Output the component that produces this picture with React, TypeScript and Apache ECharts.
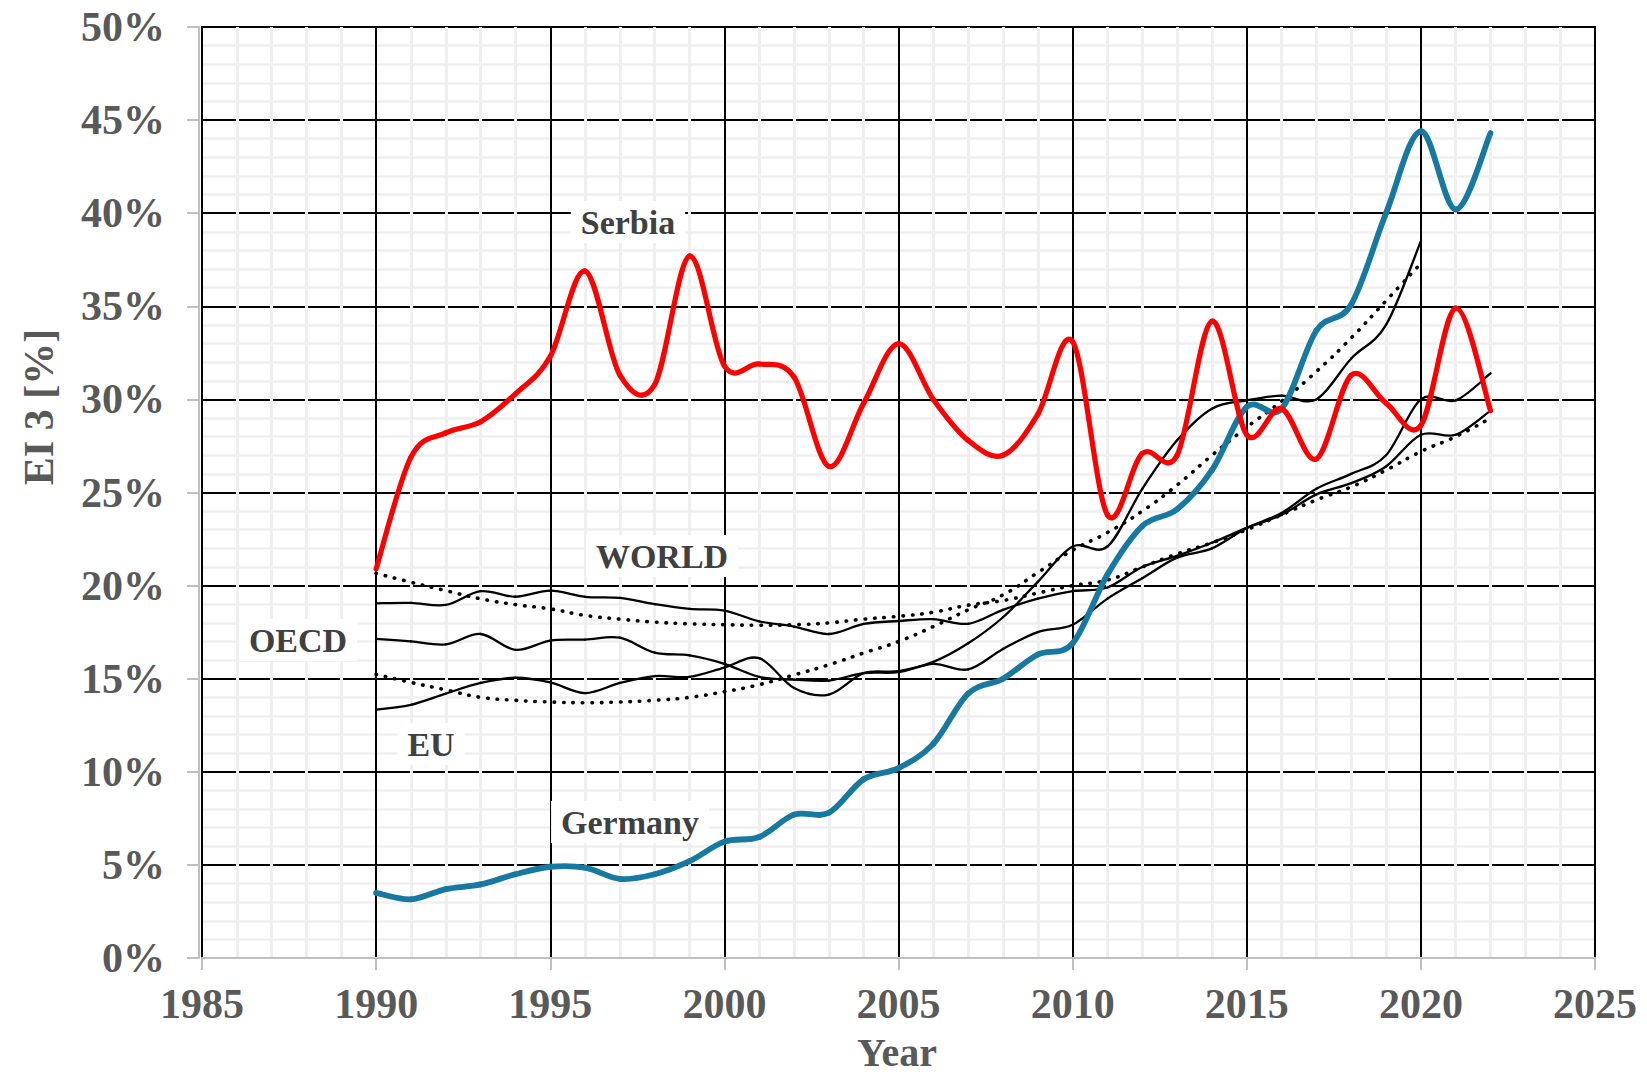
import React, { useEffect, useRef } from "react";
import * as echarts from "echarts";

// ---------- data ----------
const years = [
  1990, 1991, 1992, 1993, 1994, 1995, 1996, 1997, 1998, 1999, 2000, 2001, 2002,
  2003, 2004, 2005, 2006, 2007, 2008, 2009, 2010, 2011, 2012, 2013, 2014, 2015,
  2016, 2017, 2018, 2019, 2020, 2021, 2022,
];

const serbia = [
  20.9, 26.9, 28.2, 28.8, 30.3, 32.3, 36.9, 31.3, 30.8, 37.7, 31.8, 31.9, 31.2,
  26.4, 29.8, 33.0, 30.0, 27.8, 27.0, 29.2, 33.1, 23.8, 27.1, 27.0, 34.2, 28.1,
  29.5, 26.8, 31.3, 29.8, 28.6, 34.9, 29.4,
];

const germany = [
  3.5, 3.15, 3.7, 3.95, 4.5, 4.9, 4.85, 4.25, 4.5, 5.2, 6.25, 6.5, 7.7, 7.8,
  9.6, 10.2, 11.5, 14.2, 15.0, 16.3, 16.9, 20.6, 23.2, 24.1, 26.2, 29.6, 29.5,
  33.7, 35.1, 40.0, 44.4, 40.2, 44.3,
];

const world = [
  19.05, 19.07, 18.96, 19.7, 19.4, 19.73, 19.4, 19.34, 19.0, 18.75, 18.66,
  18.08, 17.8, 17.4, 17.94, 18.1, 18.2, 17.95, 18.7, 19.3, 19.7, 19.9, 21.0,
  21.6, 22.3, 23.1, 23.8, 24.9, 25.5, 26.4, 28.1, 28.1, 29.4,
];

const oecd = [
  17.14, 17.0, 16.84, 17.4, 16.55, 17.05, 17.1, 17.2, 16.4, 16.25, 15.8, 15.1,
  14.95, 14.9, 15.3, 15.35, 15.8, 15.5, 16.6, 17.5, 17.9, 19.3, 20.4, 21.5,
  22.0, 23.1, 23.9, 25.2, 26.0, 27.0, 30.0, 29.95, 31.4,
];

// EU data ends in 2020
const eu = [
  13.34, 13.6, 14.2, 14.77, 15.05, 14.8, 14.23, 14.77, 15.14, 15.1, 15.6, 16.1,
  14.5, 14.15, 15.3, 15.4, 15.9, 16.9, 18.3, 20.2, 22.1, 22.1, 25.2, 27.8,
  29.5, 29.95, 30.2, 30.0, 32.2, 34.0, 38.5,
];

// dotted trend lines
const worldTrend = [
  20.66, 20.18, 19.73, 19.29, 18.98, 18.75, 18.4, 18.2, 18.04, 17.95, 17.9,
  17.87, 17.9, 18.0, 18.2, 18.35, 18.57, 18.95, 19.2, 19.6, 20.0, 20.3, 21.0,
  21.7, 22.3, 23.0, 23.8, 24.6, 25.3, 26.2, 27.2, 28.0, 29.0,
];

const euTrend = [
  15.23, 14.8, 14.4, 14.0, 13.84, 13.75, 13.71, 13.75, 13.84, 14.0, 14.3,
  14.68, 15.2, 15.75, 16.38, 17.0, 17.8, 18.7, 19.5, 20.7, 21.9, 22.85, 24.0,
  25.4, 27.0, 28.5, 29.9, 31.5, 33.3, 35.3, 37.3,
];

const xMin = 1985;
const xMax = 2025;
const xStep = 5;
const yMin = 0;
const yMax = 50;
const yStep = 5;

const seriesLabels = [
  { text: "Serbia", x: 628, y: 222 },
  { text: "WORLD", x: 662, y: 556 },
  { text: "OECD", x: 298, y: 640 },
  { text: "EU", x: 431, y: 744 },
  { text: "Germany", x: 630, y: 822 },
];

const pairs = (vals: number[]) => vals.map((v, i) => [years[i], v]);

const FONT = '"Liberation Serif", "Times New Roman", serif';

// Excel-like smoothed line: one cubic Bezier segment per pair of points,
// positioned with the chart's own coordinate system (api.coord).
function smoothLine(
  name: string,
  vals: number[],
  color: string,
  width: number,
  z: number
) {
  const n = vals.length;
  return {
    name,
    type: "custom",
    data: pairs(vals),
    encode: { x: 0, y: 1 },
    z,
    silent: true,
    renderItem: (params: any, api: any) => {
      const i = params.dataIndex;
      if (i >= n - 1) return null;
      const P = (k: number) => api.coord([years[k], vals[k]]);
      const p0 = P(Math.max(i - 1, 0));
      const p1 = P(i);
      const p2 = P(i + 1);
      const p3 = P(Math.min(i + 2, n - 1));
      const t = 1 / 6;
      return {
        type: "bezierCurve",
        shape: {
          x1: p1[0],
          y1: p1[1],
          x2: p2[0],
          y2: p2[1],
          cpx1: p1[0] + (p2[0] - p0[0]) * t,
          cpy1: p1[1] + (p2[1] - p0[1]) * t,
          cpx2: p2[0] - (p3[0] - p1[0]) * t,
          cpy2: p2[1] - (p3[1] - p1[1]) * t,
        },
        style: {
          stroke: color,
          lineWidth: width,
          fill: null,
          lineCap: "round",
          lineJoin: "round",
        },
      };
    },
  };
}

export default function App() {
  const ref = useRef<HTMLDivElement>(null);

  useEffect(() => {
    if (!ref.current) return;
    const chart = echarts.init(ref.current, undefined, { renderer: "svg" });

    const dottedLine = (name: string, vals: number[]) => ({
      name,
      type: "line",
      data: pairs(vals),
      smooth: 0.5,
      showSymbol: false,
      symbol: "none",
      z: 3,
      lineStyle: {
        color: "#000",
        width: 3.6,
        type: [0.5, 9],
        cap: "round",
      },
    });

    const option: any = {
      animation: false,
      backgroundColor: "#ffffff",
      grid: {
        left: 202,
        right: 52,
        top: 27,
        bottom: 118,
        show: true,
        z: 1,
        borderColor: "#000",
        borderWidth: 2,
        backgroundColor: "transparent",
      },
      xAxis: {
        type: "value",
        min: xMin,
        max: xMax,
        interval: xStep,
        z: 1,
        offset: 3,
        axisLine: { show: true, lineStyle: { color: "#bfbfbf", width: 2 } },
        axisTick: {
          show: true,
          length: 12,
          lineStyle: { color: "#bfbfbf", width: 2 },
        },
        axisLabel: {
          margin: 22,
          fontFamily: FONT,
          fontWeight: "bold",
          fontSize: 42,
          color: "#595959",
          formatter: (v: number) => String(v),
        },
        splitLine: { show: true, lineStyle: { color: "#000", width: 2 } },
        minorTick: { show: false, splitNumber: 5 },
        minorSplitLine: {
          show: true,
          lineStyle: { color: "#efefef", width: 3 },
        },
      },
      yAxis: {
        type: "value",
        min: yMin,
        max: yMax,
        interval: yStep,
        z: 0,
        offset: 3,
        axisLine: { show: true, lineStyle: { color: "#bfbfbf", width: 2 } },
        axisTick: {
          show: true,
          length: 12,
          lineStyle: { color: "#bfbfbf", width: 2 },
        },
        axisLabel: {
          margin: 34,
          fontFamily: FONT,
          fontWeight: "bold",
          fontSize: 42,
          color: "#595959",
          formatter: (v: number) => `${v}%`,
        },
        splitLine: { show: true, lineStyle: { color: "#000", width: 2 } },
        minorTick: { show: false, splitNumber: 5 },
        minorSplitLine: {
          show: true,
          lineStyle: { color: "#efefef", width: 2.5 },
        },
      },
      graphic: [
        ...seriesLabels.map((l) => ({
          type: "text",
          x: l.x,
          y: l.y,
          z: 1.5,
          style: {
            text: l.text,
            font: `bold 34px ${FONT}`,
            fill: "#404040",
            align: "center",
            verticalAlign: "middle",
            backgroundColor: "#ffffff",
            padding: [4, 10, 4, 10],
          },
        })),
        {
          type: "text",
          x: 897,
          y: 1052,
          z: 5,
          style: {
            text: "Year",
            font: `bold 40px ${FONT}`,
            fill: "#595959",
            align: "center",
            verticalAlign: "middle",
          },
        },
        {
          type: "text",
          x: 39,
          y: 407,
          rotation: Math.PI / 2,
          z: 5,
          style: {
            text: "EI 3 [%]",
            font: `bold 42px ${FONT}`,
            fill: "#595959",
            align: "center",
            verticalAlign: "middle",
          },
        },
      ],
      series: [
        dottedLine("WORLD trend", worldTrend),
        dottedLine("EU trend", euTrend),
        smoothLine("WORLD", world, "#000000", 2.3, 3),
        smoothLine("OECD", oecd, "#000000", 2.3, 3),
        smoothLine("EU", eu, "#000000", 2.3, 3),
        smoothLine("Germany", germany, "#17799f", 5.8, 4),
        smoothLine("Serbia", serbia, "#ff0000", 5.2, 5),
      ],
    };

    chart.setOption(option);
    return () => chart.dispose();
  }, []);

  return (
    <div
      ref={ref}
      style={{
        position: "fixed",
        left: 0,
        top: 0,
        width: 1647,
        height: 1076,
        background: "#fff",
      }}
    />
  );
}
